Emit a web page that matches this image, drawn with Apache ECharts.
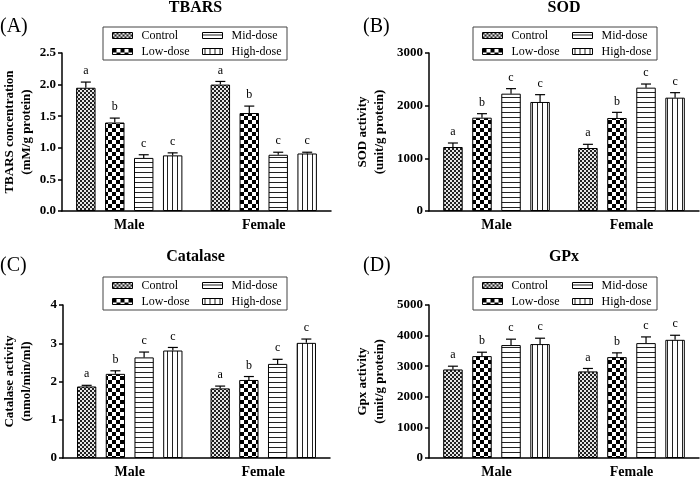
<!DOCTYPE html>
<html>
<head>
<meta charset="utf-8">
<script src="https://cdn.jsdelivr.net/npm/echarts@6/dist/echarts.min.js"></script>
<style>
html,body{margin:0;padding:0;background:#fff;}
#chart{width:700px;height:479px;}
</style>
</head>
<body>
<div id="chart"></div>
<script>
// ---------------- data ----------------
const categories = ['Male', 'Female'];
const seriesNames = ['Control', 'Low-dose', 'Mid-dose', 'High-dose'];
const letters = ['a', 'b', 'c', 'c'];

// per series (Control, Low, Mid, High) -> [Male, Female]
const tbarsMean = [[1.95, 2.00], [1.40, 1.55], [0.84, 0.89], [0.88, 0.91]];
const tbarsErr  = [[0.09, 0.05], [0.07, 0.11], [0.05, 0.04], [0.04, 0.02]];

const sodMean = [[1215, 1196], [1772, 1766], [2228, 2342], [2070, 2152]];
const sodErr  = [[76, 70], [76, 107], [95, 69], [139, 95]];

const catMean = [[1.87, 1.82], [2.20, 2.04], [2.63, 2.46], [2.81, 3.01]];
const catErr  = [[0.03, 0.06], [0.08, 0.09], [0.14, 0.12], [0.08, 0.10]];

const gpxMean = [[2894, 2830], [3330, 3298], [3691, 3755], [3723, 3862]];
const gpxErr  = [[106, 96], [127, 138], [192, 202], [192, 149]];

const panelTitles = ['TBARS', 'SOD', 'Catalase', 'GPx'];
const panelTags = ['(A)', '(B)', '(C)', '(D)'];
const yNames = ['TBARS concentration\n(mM/g protein)', 'SOD activity\n(unit/g protein)',
                'Catalase activity\n(nmol/min/ml)', 'Gpx activity\n(unit/g protein)'];
const yMax = [2.5, 3000, 4, 5000];
const yInterval = [0.5, 1000, 1, 1000];

// ---------------- styles ----------------
const SERIF = 'Liberation Serif';
const FONT = '"Liberation Serif", serif';
const CAT_GAP = 0.21, BAR_GAP = 0.49;

function makePattern(kind) {
  const c = document.createElement('canvas');
  let ctx;
  if (kind === 0) { // fine checker
    c.width = 4; c.height = 4; ctx = c.getContext('2d');
    ctx.fillStyle = '#e6e6e6'; ctx.fillRect(0, 0, 4, 4);
    ctx.fillStyle = '#222'; ctx.fillRect(0, 0, 2, 2); ctx.fillRect(2, 2, 2, 2);
  } else if (kind === 1) { // coarse checker
    c.width = 8; c.height = 8; ctx = c.getContext('2d');
    ctx.fillStyle = '#fff'; ctx.fillRect(0, 0, 8, 8);
    ctx.fillStyle = '#000'; ctx.fillRect(0, 0, 4, 4); ctx.fillRect(4, 4, 4, 4);
  } else if (kind === 2) { // horizontal lines
    c.width = 5; c.height = 5; ctx = c.getContext('2d');
    ctx.fillStyle = '#fff'; ctx.fillRect(0, 0, 5, 5);
    ctx.fillStyle = '#222'; ctx.fillRect(0, 2, 5, 1);
  } else { // vertical lines
    c.width = 5; c.height = 5; ctx = c.getContext('2d');
    ctx.fillStyle = '#fff'; ctx.fillRect(0, 0, 5, 5);
    ctx.fillStyle = '#222'; ctx.fillRect(2, 0, 1, 5);
  }
  return { image: c, repeat: 'repeat' };
}
const patterns = [0, 1, 2, 3].map(makePattern);

const grids = [
  { left: 60, top: 53, width: 271, height: 158 },
  { left: 429, top: 53, width: 270, height: 158 },
  { left: 61, top: 305, width: 269, height: 157 },
  { left: 429, top: 305, width: 270, height: 157 }
];
const nameGaps = [27, 41, 28, 41];
const titleY = [8, 8, 257, 257];
const tagPos = [[0, 27], [363, 27], [0, 266], [363, 266]];
const legendBoxes = [
  { x: 103, y: 27, w: 184, h: 33 },
  { x: 473, y: 27, w: 184, h: 33 },
  { x: 103, y: 277, w: 184, h: 33 },
  { x: 473, y: 277, w: 184, h: 33 }
];
const means = [tbarsMean, sodMean, catMean, gpxMean];
const errs = [tbarsErr, sodErr, catErr, gpxErr];

const option = {
  animation: false,
  backgroundColor: '#fff',
  textStyle: { fontFamily: SERIF },
  grid: grids,
  xAxis: grids.map((g, i) => ({
    type: 'category', gridIndex: i, data: categories,
    axisLine: { lineStyle: { color: '#000', width: 1.5 } },
    axisTick: { alignWithLabel: true, length: 4, lineStyle: { color: '#000', width: 1.5 } },
    axisLabel: { color: '#000', fontFamily: SERIF, fontWeight: 'bold', fontSize: 14, margin: 7 }
  })),
  yAxis: grids.map((g, i) => ({
    type: 'value', gridIndex: i, min: 0, max: yMax[i], interval: yInterval[i],
    name: yNames[i], nameLocation: 'middle', nameGap: nameGaps[i],
    nameTextStyle: { color: '#000', fontFamily: SERIF, fontWeight: 'bold', fontSize: 13, lineHeight: 17 },
    axisLine: { show: true, lineStyle: { color: '#000', width: 1.5 } },
    axisTick: { show: true, length: 4, lineStyle: { color: '#000', width: 1.5 } },
    splitLine: { show: false },
    axisLabel: {
      color: '#000', fontFamily: SERIF, fontWeight: 'bold', fontSize: 13, margin: 6,
      formatter: i === 0 ? (v => v.toFixed(1)) : (v => String(v))
    }
  })),
  legend: [],
  series: [],
  graphic: []
};

for (let p = 0; p < 4; p++) {
  // bars
  for (let s = 0; s < 4; s++) {
    option.series.push({
      type: 'bar', name: seriesNames[s], xAxisIndex: p, yAxisIndex: p,
      data: means[p][s],
      barGap: (BAR_GAP * 100) + '%', barCategoryGap: (CAT_GAP * 100) + '%',
      itemStyle: { color: patterns[s], borderColor: '#000', borderWidth: 1 }
    });
  }
  // error bars + letters
  const ebData = [];
  for (let s = 0; s < 4; s++) {
    for (let c = 0; c < categories.length; c++) {
      ebData.push([c, means[p][s][c], errs[p][s][c], s]);
    }
  }
  option.series.push({
    type: 'custom', xAxisIndex: p, yAxisIndex: p, z: 5,
    encode: { x: 0, y: 1 },
    data: ebData,
    renderItem: function (params, api) {
      const cat = api.value(0), val = api.value(1), err = api.value(2), s = api.value(3);
      const band = api.size([1, 0])[0];
      const n = 4;
      const groupW = band * (1 - CAT_GAP);
      const bw = groupW / (n + (n - 1) * BAR_GAP);
      const off = -groupW / 2 + s * bw * (1 + BAR_GAP) + bw / 2;
      const base = api.coord([cat, val]);
      const top = api.coord([cat, val + err]);
      const x = base[0] + off;
      const cap = 10;
      return {
        type: 'group',
        children: [
          { type: 'line', shape: { x1: x, y1: base[1], x2: x, y2: top[1] },
            style: { stroke: '#000', lineWidth: 1.2 } },
          { type: 'line', shape: { x1: x - cap / 2, y1: top[1], x2: x + cap / 2, y2: top[1] },
            style: { stroke: '#000', lineWidth: 1.2 } },
          { type: 'text', style: { text: letters[s], x: x, y: top[1] - 5, align: 'center',
            verticalAlign: 'bottom', font: '12px ' + FONT, fill: '#000' } }
        ]
      };
    }
  });
  // legends (two columns)
  const lb = legendBoxes[p];
  [[0, 1], [2, 3]].forEach((pair, col) => {
    option.legend.push({
      orient: 'vertical', left: lb.x + 9 + col * 90, top: lb.y + 1,
      padding: 0, itemGap: 1, itemWidth: 20, itemHeight: 6, z: 10,
      icon: 'rect',
      data: pair.map(k => seriesNames[k]),
      selectedMode: false,
      itemStyle: { borderColor: '#000', borderWidth: 1 },
      formatter: '{t|{name}}',
      textStyle: {
        color: '#000', fontFamily: SERIF, fontSize: 12, lineHeight: 15,
        rich: { t: { color: '#000', fontFamily: SERIF, fontSize: 12, lineHeight: 15, padding: [0, 0, 0, 4] } }
      }
    });
  });
  option.graphic.push({
    type: 'rect', z: 1,
    shape: { x: lb.x, y: lb.y, width: lb.w, height: lb.h },
    style: { fill: '#fff', stroke: '#444', lineWidth: 1 }
  });
  const g = grids[p];
  option.graphic.push({
    type: 'text', z: 1, x: g.left + g.width / 2, y: titleY[p],
    style: { text: panelTitles[p], align: 'center', verticalAlign: 'middle',
      font: 'bold 16px ' + FONT, fill: '#000' }
  });
  option.graphic.push({
    type: 'text', z: 1, x: tagPos[p][0], y: tagPos[p][1],
    style: { text: panelTags[p], align: 'left', verticalAlign: 'middle',
      font: '20px ' + FONT, fill: '#000' }
  });
}

const chart = echarts.init(document.getElementById('chart'), null, { renderer: 'canvas' });
chart.setOption(option);
</script>
</body>
</html>
